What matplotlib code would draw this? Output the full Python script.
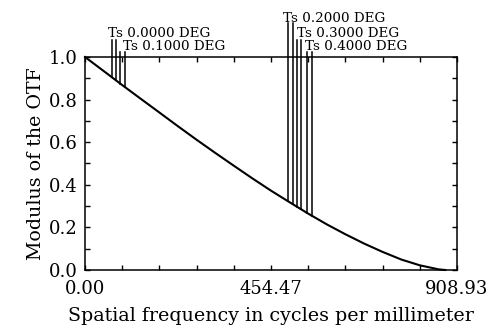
import numpy as np
import matplotlib
matplotlib.use("Agg")
import matplotlib.pyplot as plt
from matplotlib.ticker import FixedLocator, MultipleLocator

# MTF curve (all fields overlap)
freq = [0, 45, 91, 136, 182, 227, 273, 318, 364, 409, 454,
        500, 545, 591, 636, 682, 727, 773, 818, 864, 880]
mtf = [1.0, 0.935, 0.868, 0.804, 0.739, 0.675, 0.611, 0.550, 0.489, 0.430, 0.373,
       0.318, 0.265, 0.214, 0.168, 0.124, 0.085, 0.049, 0.022, 0.003, 0.0]

# field labels, the T/S marker frequencies and the label row (0 = top row)
field_names = ["Ts 0.0000 DEG", "Ts 0.1000 DEG", "Ts 0.2000 DEG",
               "Ts 0.3000 DEG", "Ts 0.4000 DEG"]
marker_freq = [(66.0, 75.7), (86.7, 96.5), (496.7, 507.5),
               (517.3, 527.0), (541.7, 553.9)]
label_freq = [56.2, 92.8, 483.8, 517.3, 537.5]
label_row = [1, 2, 0, 1, 2]

x_max = 908.93
x_ticks = [0.00, 454.47, 908.93]

row_base = [1.164, 1.094, 1.033]
row_top = [1.158, 1.080, 1.023]

plt.rcParams["font.family"] = "DejaVu Serif"

fig = plt.figure(figsize=(4.9, 3.31), dpi=100)
ax = fig.add_axes([0.1735, 0.1843, 0.7592, 0.6435])

ax.plot(freq, mtf, color="black", lw=1.5, clip_on=False)

for name, (ft, fs), lf, row in zip(field_names, marker_freq, label_freq, label_row):
    for f in (ft, fs):
        ax.plot([f, f], [np.interp(f, freq, mtf), row_top[row]],
                color="black", lw=1.1, clip_on=False)
    ax.text(lf, row_base[row], name, fontsize=9.7, ha="left", va="baseline")

ax.set_xlim(0, x_max)
ax.set_ylim(0, 1)
ax.xaxis.set_major_locator(FixedLocator(x_ticks))
ax.xaxis.set_minor_locator(MultipleLocator(x_max / 10))
ax.set_xticklabels(["%.2f" % t for t in x_ticks])
ax.yaxis.set_major_locator(MultipleLocator(0.2))
ax.yaxis.set_minor_locator(MultipleLocator(0.1))
ax.yaxis.set_major_formatter(plt.FormatStrFormatter("%.1f"))
ax.tick_params(which="both", direction="in", top=True, right=True,
               length=3.5, width=1.0, labelsize=13)
ax.tick_params(axis="x", pad=7)
ax.tick_params(axis="y", pad=5)
for s in ax.spines.values():
    s.set_linewidth(1.1)

ax.set_xlabel("Spatial frequency in cycles per millimeter", fontsize=13.7, labelpad=7)
ax.set_ylabel("Modulus of the OTF", fontsize=13.7, labelpad=3)

fig.savefig("out.png", dpi=100)
